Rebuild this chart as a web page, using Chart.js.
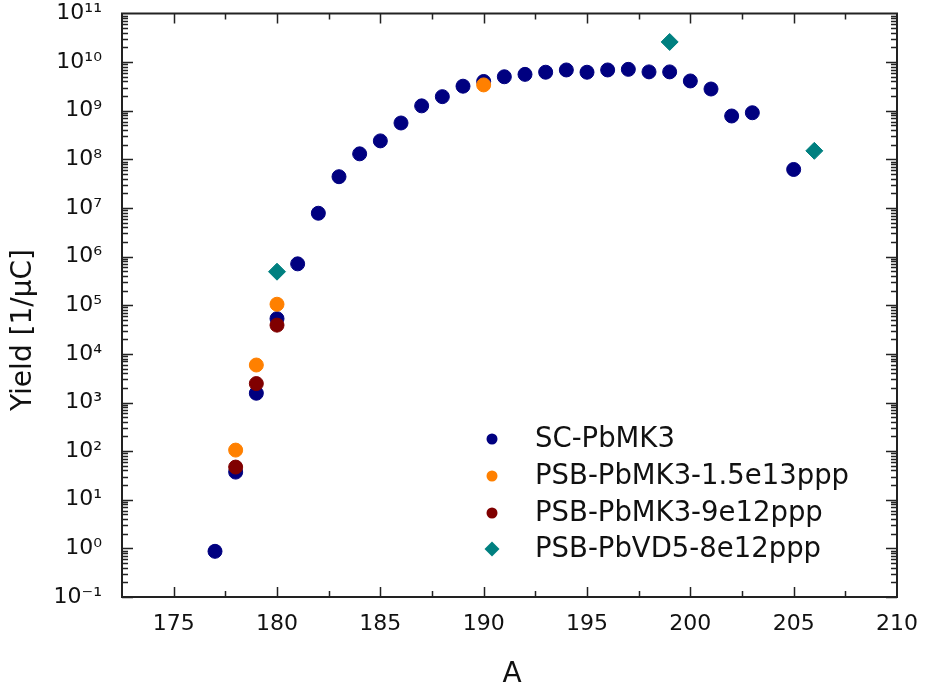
<html>
<head>
<script src="https://cdn.jsdelivr.net/npm/chart.js@4.4.0/dist/chart.umd.min.js"></script>
<style>
    body { margin: 0; background: #fff; }
    #yieldChart { display: block; }
</style>
</head>
<body>
<canvas id="yieldChart" width="932" height="691"></canvas>
<script>
    // mass number A and yield [1/uC] per measurement series
    var scA = [177, 178, 179, 180, 181, 182, 183, 184, 185, 186, 187, 188, 189, 190, 191, 192,
               193, 194, 195, 196, 197, 198, 199, 200, 201, 202, 203, 205];
    var scYield = [0.87, 37, 1550, 53000, 7.1e5, 7.8e6, 4.4e7, 1.3e8, 2.4e8, 5.6e8, 1.26e9, 1.95e9,
                   3.2e9, 4.0e9, 5.0e9, 5.6e9, 6.2e9, 6.9e9, 6.2e9, 6.9e9, 7.1e9, 6.3e9, 6.3e9,
                   4.1e9, 2.8e9, 7.8e8, 9.1e8, 6.2e7];

    var psb15A = [178, 179, 180, 190];
    var psb15Yield = [105, 5900, 1.05e5, 3.4e9];

    var psb9A = [178, 179, 180];
    var psb9Yield = [47, 2450, 39000];

    var vd5A = [180, 199, 206];
    var vd5Yield = [4.9e5, 2.6e10, 1.5e8];

    var seriesNames = ["SC-PbMK3", "PSB-PbMK3-1.5e13ppp", "PSB-PbMK3-9e12ppp", "PSB-PbVD5-8e12ppp"];
    var seriesColors = ["#000080", "#ff8000", "#800000", "#008080"];

    var xTicks = [175, 180, 185, 190, 195, 200, 205, 210];
    var yExponents = [-1, 0, 1, 2, 3, 4, 5, 6, 7, 8, 9, 10, 11];

    var sup = {"-": "\u207B", "0": "\u2070", "1": "\u00B9", "2": "\u00B2", "3": "\u00B3",
               "4": "\u2074", "5": "\u2075", "6": "\u2076", "7": "\u2077", "8": "\u2078", "9": "\u2079"};
    function superscript(n) {
        return String(n).split("").map(function (c) { return sup[c]; }).join("");
    }

    function points(xs, ys) {
        return xs.map(function (x, i) { return {x: x, y: ys[i]}; });
    }

    Chart.defaults.font.family = "'DejaVu Sans', Verdana, sans-serif";
    Chart.defaults.color = "#111";

    // frame, inward ticks, titles and legend
    var decorations = {
        id: "decorations",
        afterDraw: function (chart) {
            var c = chart.ctx, a = chart.chartArea;
            var xs = chart.scales.x, ys = chart.scales.y;
            c.save();
            c.strokeStyle = "#222";
            c.lineWidth = 1.5;
            c.beginPath();
            // x ticks, major every 5, minor at 2.5
            for (var v = 175; v < 210; v += 2.5) {
                var px = Math.round(xs.getPixelForValue(v)) + 0.5;
                var len = (v % 5 === 0) ? 10 : 6;
                c.moveTo(px, a.bottom); c.lineTo(px, a.bottom - len);
                c.moveTo(px, a.top); c.lineTo(px, a.top + len);
            }
            // y ticks, decades and 2..9 minors
            for (var e = -1; e < 11; e++) {
                for (var m = 1; m < 10; m++) {
                    var py = Math.round(ys.getPixelForValue(m * Math.pow(10, e))) + 0.5;
                    var l = (m === 1) ? 11 : 6;
                    c.moveTo(a.left, py); c.lineTo(a.left + l, py);
                    c.moveTo(a.right, py); c.lineTo(a.right - l, py);
                }
            }
            c.stroke();
            c.lineWidth = 2;
            c.strokeRect(a.left, a.top, a.right - a.left, a.bottom - a.top);

            // axis titles
            c.fillStyle = "#111";
            c.font = "28px 'DejaVu Sans'";
            c.textAlign = "center";
            c.textBaseline = "middle";
            c.fillText("A", 512, 675);
            c.save();
            c.translate(24, 330);
            c.rotate(-Math.PI / 2);
            c.fillText("Yield [1/\u03BCC]", 0, 0);
            c.restore();

            // legend
            c.font = "27.5px 'DejaVu Sans'";
            c.textAlign = "left";
            var rows = [439, 476, 513, 549];
            for (var i = 0; i < seriesNames.length; i++) {
                var ly = rows[i];
                c.fillStyle = seriesColors[i];
                c.beginPath();
                if (i === 3) {
                    c.moveTo(492, ly - 7.5); c.lineTo(499.5, ly); c.lineTo(492, ly + 7.5); c.lineTo(484.5, ly);
                    c.closePath();
                } else {
                    c.arc(492, ly, 5.5, 0, Math.PI * 2);
                }
                c.fill();
                c.fillStyle = "#111";
                c.fillText(seriesNames[i], 535, ly + 1);
            }
            c.restore();
        }
    };

    var ctx = document.getElementById("yieldChart");
    var myChart = new Chart(ctx, {
        type: "scatter",
        data: {
            datasets: [{
                label: seriesNames[0],
                data: points(scA, scYield),
                backgroundColor: seriesColors[0],
                borderColor: seriesColors[0],
                pointRadius: 7,
                order: 4
            }, {
                label: seriesNames[1],
                data: points(psb15A, psb15Yield),
                backgroundColor: seriesColors[1],
                borderColor: seriesColors[1],
                pointRadius: 7,
                order: 3
            }, {
                label: seriesNames[2],
                data: points(psb9A, psb9Yield),
                backgroundColor: seriesColors[2],
                borderColor: seriesColors[2],
                pointRadius: 7,
                order: 2
            }, {
                label: seriesNames[3],
                data: points(vd5A, vd5Yield),
                backgroundColor: seriesColors[3],
                borderColor: seriesColors[3],
                pointStyle: "rectRot",
                pointRadius: 8.5,
                order: 1
            }]
        },
        options: {
            responsive: false,
            animation: false,
            layout: { padding: { left: 0, right: 35, top: 13.5, bottom: 0 } },
            plugins: { legend: { display: false }, tooltip: { enabled: false } },
            scales: {
                x: {
                    type: "linear",
                    min: 172.5,
                    max: 210,
                    grid: { display: false },
                    border: { display: false },
                    afterBuildTicks: function (s) {
                        s.ticks = xTicks.map(function (v) { return {value: v}; });
                    },
                    afterFit: function (s) {
                        s.height = 94;
                        s.paddingLeft = 0;
                        s.paddingRight = 0;
                    },
                    ticks: {
                        font: { size: 22 },
                        padding: 6,
                        maxRotation: 0,
                        autoSkip: false,
                        callback: function (v) { return String(v); }
                    }
                },
                y: {
                    type: "logarithmic",
                    min: 0.1,
                    max: 1e11,
                    grid: { display: false },
                    border: { display: false },
                    afterBuildTicks: function (s) {
                        s.ticks = yExponents.map(function (e) { return {value: Math.pow(10, e)}; });
                    },
                    afterFit: function (s) {
                        s.width = 122;
                        s.paddingTop = 0;
                        s.paddingBottom = 0;
                    },
                    ticks: {
                        font: { size: 22 },
                        padding: 12,
                        autoSkip: false,
                        callback: function (v) {
                            return "10" + superscript(Math.round(Math.log10(v)));
                        }
                    }
                }
            }
        },
        plugins: [decorations]
    });
</script>
</body>
</html>
